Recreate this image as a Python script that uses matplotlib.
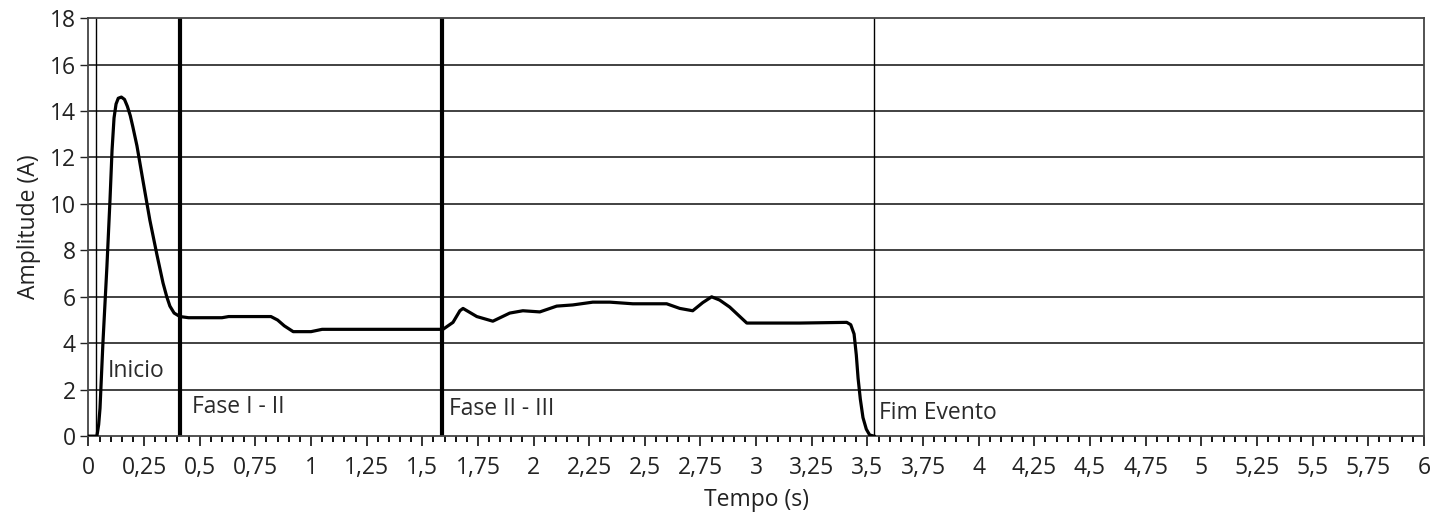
import numpy as np
import matplotlib.pyplot as plt
from matplotlib.ticker import MultipleLocator, FuncFormatter

# corrente medida ao longo do evento
tempo = [0.0, 0.038, 0.046, 0.052, 0.065, 0.083, 0.097, 0.106, 0.115, 0.124,
         0.134, 0.148, 0.162, 0.175, 0.188, 0.200, 0.218, 0.245, 0.276, 0.308,
         0.335, 0.352, 0.366, 0.385, 0.411, 0.45, 0.60, 0.63, 0.82, 0.85,
         0.88, 0.92, 1.00, 1.05, 1.30, 1.593, 1.638, 1.669, 1.683, 1.745,
         1.817, 1.893, 1.952, 2.028, 2.104, 2.176, 2.266, 2.343, 2.446, 2.536,
         2.598, 2.657, 2.715, 2.760, 2.800, 2.836, 2.881, 2.958, 3.048, 3.196,
         3.407, 3.425, 3.440, 3.450, 3.458, 3.468, 3.480, 3.495, 3.510, 3.530]
corrente = [0.0, 0.0, 0.5, 1.2, 4.0, 7.3, 10.2, 12.3, 13.7, 14.3,
            14.55, 14.6, 14.5, 14.2, 13.8, 13.3, 12.5, 11.0, 9.3, 7.8,
            6.6, 6.0, 5.6, 5.3, 5.15, 5.1, 5.1, 5.15, 5.15, 5.0,
            4.75, 4.5, 4.5, 4.6, 4.6, 4.6, 4.9, 5.4, 5.5, 5.15,
            4.95, 5.3, 5.4, 5.35, 5.6, 5.65, 5.77, 5.77, 5.7, 5.7,
            5.7, 5.5, 5.4, 5.75, 6.0, 5.86, 5.56, 4.87, 4.87, 4.87,
            4.9, 4.8, 4.4, 3.5, 2.5, 1.6, 0.8, 0.3, 0.05, 0.0]

# marcadores das fases
marcas_t = [0.034, 0.41, 1.588, 3.53]
marcas_lw = [1.0, 3.0, 3.0, 1.0]
marcas_txt = ["Inicio", "Fase I - II", "Fase II - III", "Fim Evento"]
marcas_txt_xy = [(0.085, 2.8), (0.465, 1.25), (1.62, 1.15), (3.55, 1.0)]

plt.rcParams['font.family'] = ['Open Sans', 'DejaVu Sans']

fig = plt.figure(figsize=(14.31, 5.18), dpi=100)
ax = fig.add_axes([0.0618, 0.158, 0.9332, 0.807])

for y in range(2, 18, 2):
    ax.axhline(y, color="#333333", lw=1.3, zorder=1)
for t, lw in zip(marcas_t, marcas_lw):
    ax.axvline(t, color="black", lw=lw, zorder=2)
for txt, (x, y) in zip(marcas_txt, marcas_txt_xy):
    ax.text(x, y, txt, fontsize=16.5, color="#2a2a2a", va="center", ha="left", zorder=3)

ax.plot(tempo, corrente, color="black", lw=2.3, zorder=4)

ax.set_xlim(0, 6)
ax.set_ylim(0, 18)
ax.xaxis.set_major_locator(MultipleLocator(0.25))
ax.xaxis.set_minor_locator(MultipleLocator(0.05))
ax.yaxis.set_major_locator(MultipleLocator(2))
ax.xaxis.set_major_formatter(FuncFormatter(lambda v, p: ("%g" % v).replace(".", ",")))

ax.tick_params(axis="both", labelsize=16.5, colors="#222222")
ax.tick_params(axis="x", which="major", length=7, width=1.3, pad=7)
ax.tick_params(axis="x", which="minor", length=4, width=1.3)
ax.tick_params(axis="y", which="major", length=6, width=1.0, pad=3)

for s in ax.spines.values():
    s.set_color("#444444")
    s.set_linewidth(1.3)

ax.set_xlabel("Tempo (s)", fontsize=16.5, color="#222222", labelpad=6)
ax.set_ylabel("Amplitude (A)", fontsize=16.5, color="#222222", labelpad=6)

fig.savefig("out.png", dpi=100)
